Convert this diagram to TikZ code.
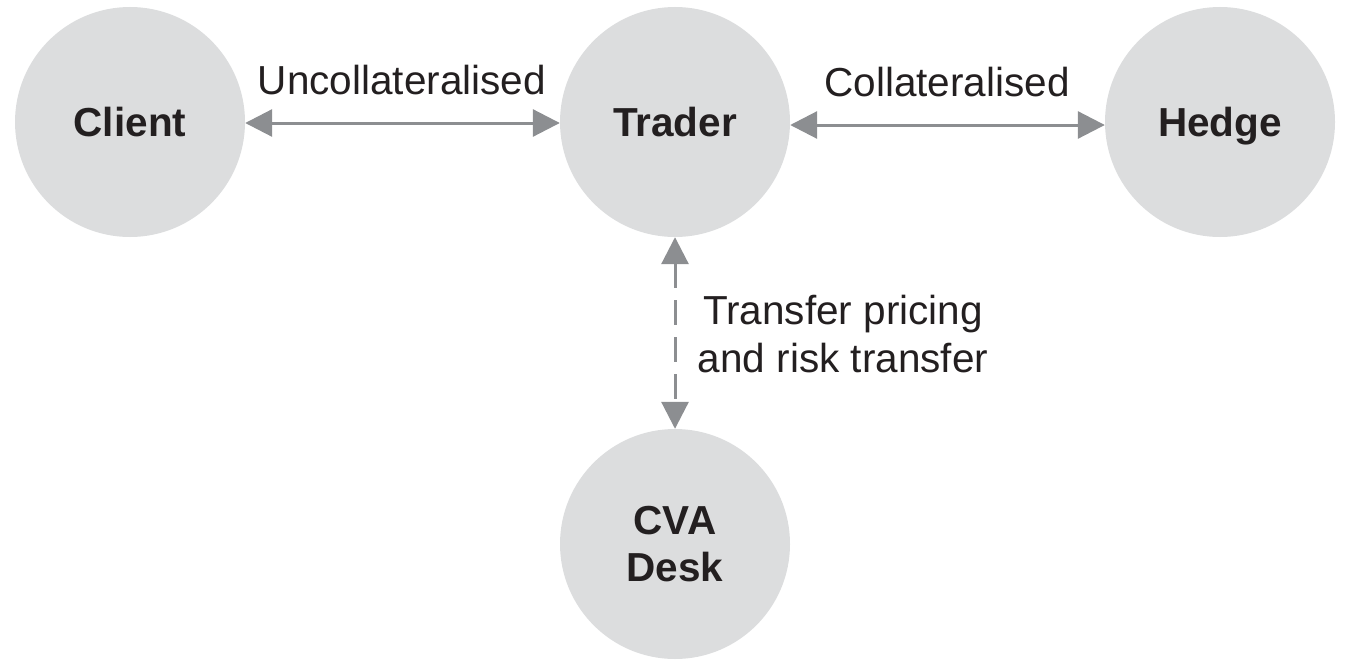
\documentclass[tikz,border=0pt]{standalone}
\usepackage{fontspec}
\setmainfont{Liberation Sans}
\usetikzlibrary{arrows.meta}
\definecolor{circfill}{HTML}{DCDDDE}
\definecolor{arrgray}{HTML}{8C8E91}
\definecolor{txt}{HTML}{231F20}
\begin{document}
\begin{tikzpicture}[x=1pt,y=-1pt,
  party/.style={circle,fill=circfill,draw=none,minimum size=230pt,inner sep=0pt,
    text=txt,font=\fontsize{40.5}{47}\selectfont\bfseries,align=center},
  link/.style={draw=arrgray,line width=3pt,{Triangle[length=27pt,width=27pt]}-{Triangle[length=27pt,width=27pt]}},
  lbl/.style={text=txt,font=\fontsize{40.5}{48}\selectfont,align=center,inner sep=0pt}]
\useasboundingbox (0,0) rectangle (1348,669);
\node[party] (client) at (130,122) {Client};
\node[party] (trader) at (675,122) {Trader};
\node[party] (hedge) at (1220,122) {Hed\smash{g}e};
\node[party] (cva) at (675,544) {CVA\\Desk};
\draw[link] ([yshift=-1pt]client.east) -- ([yshift=-1pt]trader.west);
\draw[link] ([yshift=-3pt]trader.east) -- ([yshift=-3pt]hedge.west);
\draw[link,dash pattern=on 25pt off 12pt] (trader.south) -- (cva.north);
\node[lbl] (l1) at (402,80) {Uncollateralised};
\node[lbl] (l2) at (947,82) {Collateralised};
\node[lbl] (l3) at (843,334) {Transfer pricing\\and risk transfer};
\end{tikzpicture}
\end{document}
